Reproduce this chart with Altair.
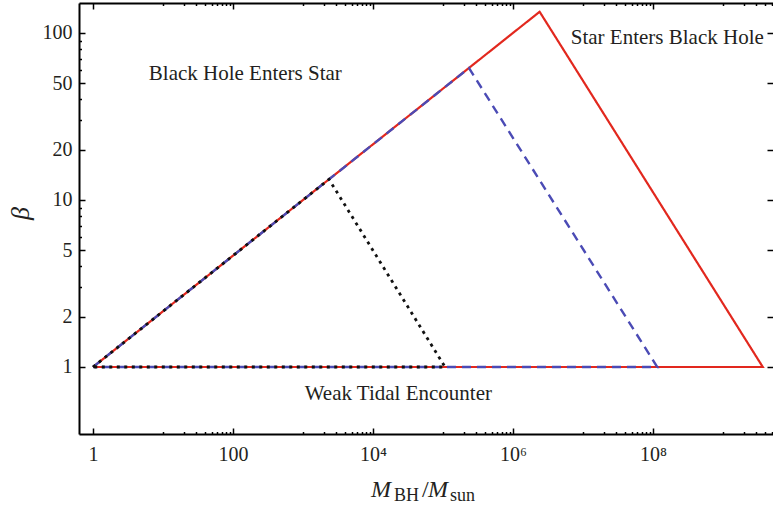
import altair as alt
import pandas as pd

# ---- data ----
series_names = ["red", "blue", "black"]
red_M = [1, 2.4e6, 3.7e9, 1]
red_beta = [1, 134, 1, 1]
blue_M = [1, 2.35e5, 1.15e8, 1]
blue_beta = [1, 61.7, 1, 1]
black_M = [1, 2.35e3, 1.07e5, 1]
black_beta = [1, 13.3, 1, 1]

ann_text = ["Black Hole Enters Star", "Star Enters Black Hole", "Weak Tidal Encounter"]
ann_M = [150, 1.6e8, 2.3e4]
ann_beta = [57, 93, 0.69]

x_major = [1, 100, 1e4, 1e6, 1e8]
x_labels = ["1", "100", "10⁴", "10⁶", "10⁸"]
y_major = [1, 2, 5, 10, 20, 50, 100]
y_minor = [3, 4, 6, 7, 8, 9, 30, 40, 60, 70, 80, 90]

# ---- layout ----
W, H = 694, 431
xdom = [10 ** -0.2, 10 ** 9.714]
ydom = [0.397, 151.2]
x_minor = [m * 10 ** d for d in [1, 3, 5, 7, 9] for m in range(1, 10) if m * 10 ** d <= xdom[1]]
FONT = "Liberation Serif"
TXT = "#231f20"

rows = []
for name, Ms, bs in [("red", red_M, red_beta), ("blue", blue_M, blue_beta), ("black", black_M, black_beta)]:
    for i, (m, b) in enumerate(zip(Ms, bs)):
        rows.append({"series": name, "M": m, "beta": b, "i": i})
df = pd.DataFrame(rows)
ann = pd.DataFrame({"text": ann_text, "M": ann_M, "beta": ann_beta})

xs = alt.Scale(type="log", domain=xdom, nice=False, zero=False)
ys = alt.Scale(type="log", domain=ydom, nice=False, zero=False)

label_expr = " : ".join(
    f"datum.value == {int(v)} ? '{t}'" for v, t in zip(x_major, x_labels)
) + " : ''"

x_major_test = "indexof([" + ",".join(str(int(v)) for v in x_major) + "], datum.value) >= 0"
y_major_test = "indexof([" + ",".join(str(v) for v in y_major) + "], datum.value) >= 0"

common = dict(grid=False, title=None, labels=False, domain=False, tickColor="black", tickWidth=1.5)

x_label_axis = alt.Axis(values=x_major, labelExpr=label_expr, ticks=False, tickSize=0, grid=False,
                        domain=True, domainColor="black", domainWidth=2, title=None,
                        labelFont=FONT, labelFontSize=20, labelColor=TXT, labelPadding=10)
y_label_axis = alt.Axis(values=y_major, format=".0f", ticks=False, tickSize=0, grid=False,
                        domain=True, domainColor="black", domainWidth=2,
                        title="β", titleFont=FONT, titleFontStyle="italic", titleFontSize=26,
                        titleFontWeight="normal", titleColor=TXT,
                        titleX=-59, titleY=210, titleAngle=-90, titleAlign="center", titleBaseline="middle",
                        labelFont=FONT, labelFontSize=20, labelColor=TXT, labelPadding=7)

x_tick_size = {"condition": {"test": x_major_test, "value": 6}, "value": 2.5}
y_tick_size = {"condition": {"test": y_major_test, "value": 6}, "value": 2.5}

x_bottom_ticks = alt.Axis(orient="top", offset=-H, values=x_major + x_minor, tickSize=x_tick_size, **common)
x_top_ticks = alt.Axis(orient="bottom", offset=-H, values=x_major + x_minor, tickSize=x_tick_size,
                       grid=False, title=None, labels=False, domain=True, domainColor="black",
                       domainWidth=2, tickColor="black", tickWidth=1.5)
y_left_ticks = alt.Axis(orient="right", offset=-W, values=y_major + y_minor, tickSize=y_tick_size, **common)
y_right_ticks = alt.Axis(orient="left", offset=-W, values=y_major, tickSize=6, **common)


def line(name, color, dash, width, xaxis, yaxis):
    return alt.Chart(df).transform_filter(alt.datum.series == name).mark_line(
        color=color, strokeDash=dash, strokeWidth=width, clip=True
    ).encode(
        x=alt.X("M:Q", scale=xs, axis=xaxis),
        y=alt.Y("beta:Q", scale=ys, axis=yaxis),
        order="i:O",
    )


red = line("red", "#e2281e", [1, 0], 2.2, x_label_axis, y_label_axis)
blue = line("blue", "#4b4bb5", [9, 6], 2.4, x_bottom_ticks, y_left_ticks)
black = line("black", "#111111", [3, 4.5], 2.8, x_top_ticks, y_right_ticks)

texts = alt.Chart(ann).mark_text(font=FONT, fontSize=21, color=TXT, baseline="middle", align="center").encode(
    x=alt.X("M:Q", scale=xs, axis=None),
    y=alt.Y("beta:Q", scale=ys, axis=None),
    text="text:N",
)

# x-axis title pieces: M_BH / M_sun
def piece(txt, px, py, size, italic):
    kw = dict(font=FONT, fontSize=size, color=TXT, align="left", baseline="alphabetic", text=txt,
              fontWeight="normal")
    if italic:
        kw["fontStyle"] = "italic"
    return alt.Chart(ann).transform_filter("datum.text == 'Weak Tidal Encounter'").mark_text(**kw).encode(
        x=alt.value(px), y=alt.value(py))

t1 = piece("M", 292, 494, 24, True)
t2 = piece("BH", 315, 498, 18, False)
t3 = piece("/", 343, 494, 24, False)
t4 = piece("M", 349, 494, 24, True)
t5 = piece("sun", 371, 498, 18, False)

chart = alt.layer(red, blue, black, texts, t1, t2, t3, t4, t5).resolve_axis(
    x="independent", y="independent"
).properties(
    width=W, height=H,
    autosize=alt.AutoSizeParams(type="none"),
    padding={"left": 79, "top": 3, "right": 0, "bottom": 73},
).configure_view(stroke=None).configure(background="white")

chart.save("out.html", embed_options={"renderer": "svg", "actions": False})
